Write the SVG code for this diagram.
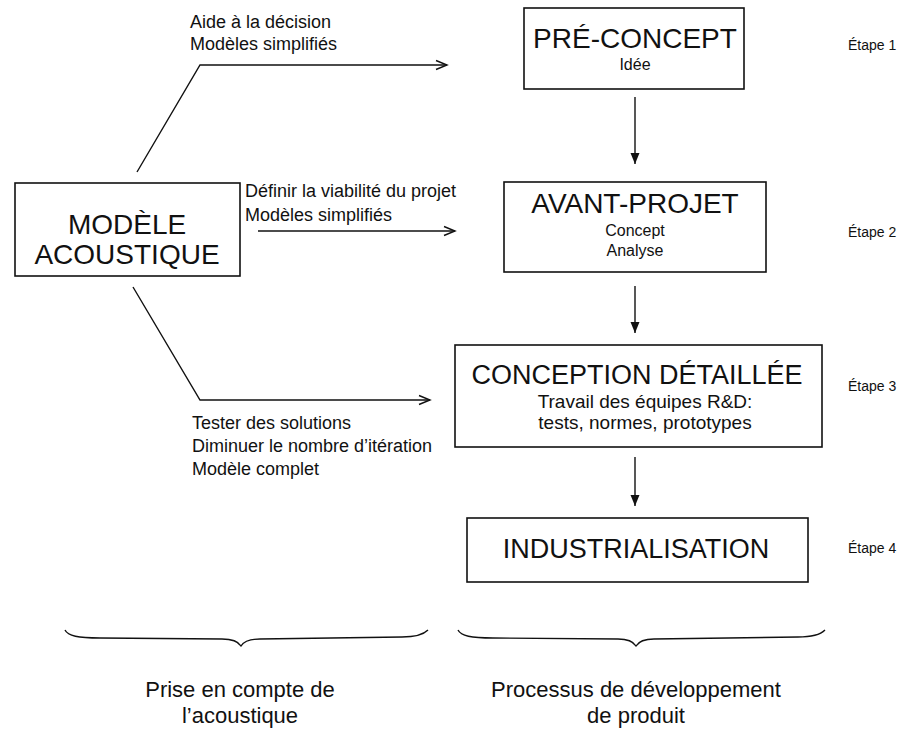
<svg xmlns="http://www.w3.org/2000/svg" width="914" height="729" viewBox="0 0 914 729">
<defs>
<style>
text{font-family:"Liberation Sans",Arial,sans-serif;fill:#111}
.box{fill:#fff;stroke:#111;stroke-width:1.6}
.big{font-size:27px}
.sub{font-size:16px}
.lbl{font-size:18px}
.etape{font-size:14px}
.bot{font-size:22px}
.c{text-anchor:middle}
.ln{fill:none;stroke:#111;stroke-width:1.4}
</style>
<marker id="open" markerWidth="14" markerHeight="12" refX="12" refY="6" orient="auto" markerUnits="userSpaceOnUse">
<path d="M1,1.5 L12,6 L1,10.5" fill="none" stroke="#111" stroke-width="1.4"/>
</marker>
<marker id="tri" markerWidth="12" markerHeight="12" refX="11" refY="6" orient="auto" markerUnits="userSpaceOnUse">
<path d="M0,1.5 L11,6 L0,10.5 Z" fill="#111"/>
</marker>
</defs>
<rect width="914" height="729" fill="#fff"/>

<g id="connectors">
<path class="ln" d="M137,172 L200,65 L447,65" marker-end="url(#open)"/>
<path class="ln" d="M258,231 L455,231" marker-end="url(#open)"/>
<path class="ln" d="M133,287 L200,400 L430,400" marker-end="url(#open)"/>
<path class="ln" d="M635,97 L635,164" marker-end="url(#tri)"/>
<path class="ln" d="M635,286 L635,333" marker-end="url(#tri)"/>
<path class="ln" d="M635,457 L635,506" marker-end="url(#tri)"/>
</g>

<g id="labels-top">
<text class="lbl" x="190" y="28">Aide à la décision</text>
<text class="lbl" x="190" y="50">Modèles simplifiés</text>
</g>
<g id="labels-mid">
<text class="lbl" x="245" y="197">Définir la viabilité du projet</text>
<text class="lbl" x="245" y="221">Modèles simplifiés</text>
</g>
<g id="labels-bottom">
<text class="lbl" x="192" y="429">Tester des solutions</text>
<text class="lbl" x="192" y="452">Diminuer le nombre d’itération</text>
<text class="lbl" x="192" y="475">Modèle complet</text>
</g>

<g id="modele">
<rect class="box" x="15" y="183" width="225" height="93"/>
<text class="big c" x="127" y="234" style="font-size:28px">MODÈLE</text>
<text class="big c" x="127" y="264" style="font-size:28px">ACOUSTIQUE</text>
</g>

<g id="preconcept">
<rect class="box" x="524" y="8" width="220" height="81"/>
<text class="big c" x="635" y="48" style="font-size:28px">PRÉ-CONCEPT</text>
<text class="sub c" x="635" y="70">Idée</text>
</g>

<g id="avantprojet">
<rect class="box" x="504" y="182" width="262" height="90"/>
<text class="big c" x="635" y="213" style="font-size:28px">AVANT-PROJET</text>
<text class="sub c" x="635" y="236">Concept</text>
<text class="sub c" x="635" y="256">Analyse</text>
</g>

<g id="conception">
<rect class="box" x="455" y="345" width="367" height="102"/>
<text class="big c" x="637" y="384">CONCEPTION DÉTAILLÉE</text>
<text class="lbl c" x="645" y="408" style="font-size:19px">Travail des équipes R&amp;D:</text>
<text class="lbl c" x="645" y="429" style="font-size:19px">tests, normes, prototypes</text>
</g>

<g id="industrialisation">
<rect class="box" x="467" y="518" width="341" height="64"/>
<text class="big c" x="636" y="558">INDUSTRIALISATION</text>
</g>

<g id="etapes">
<text class="etape" x="848" y="50">Étape 1</text>
<text class="etape" x="848" y="237">Étape 2</text>
<text class="etape" x="848" y="391">Étape 3</text>
<text class="etape" x="848" y="553">Étape 4</text>
</g>

<g id="brace-left">
<path class="ln" d="M65,630 C68,636 78,638 100,638 L222,639 C232,639 238,641 241,646 C244,641 250,639 260,639 L402,637 C418,637 424,634 428,630"/>
<text class="bot c" x="240" y="697">Prise en compte de</text>
<text class="bot c" x="240" y="723">l’acoustique</text>
</g>

<g id="brace-right">
<path class="ln" d="M458,630 C461,636 471,638 493,638 L618,639 C628,639 633,641 636,646 C639,641 644,639 654,639 L798,637 C815,637 821,634 825,630"/>
<text class="bot c" x="636" y="697">Processus de développement</text>
<text class="bot c" x="636" y="723">de produit</text>
</g>
</svg>
